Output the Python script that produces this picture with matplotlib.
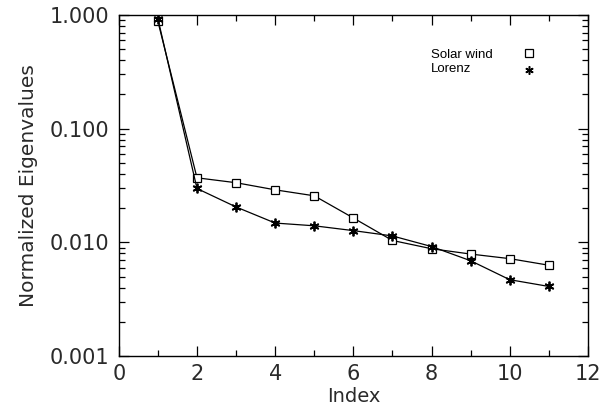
import matplotlib
matplotlib.use("Agg")
import matplotlib.pyplot as plt
from matplotlib.lines import Line2D
from matplotlib.ticker import FixedLocator, FormatStrFormatter, LogLocator, NullFormatter, MultipleLocator

index = [1, 2, 3, 4, 5, 6, 7, 8, 9, 10, 11]
solar_wind = [0.88, 0.037, 0.0335, 0.029, 0.0257, 0.0164, 0.0104, 0.0088, 0.0079, 0.0072, 0.0063]
lorenz = [0.93, 0.0298, 0.0205, 0.0148, 0.0140, 0.0127, 0.0114, 0.0092, 0.0069, 0.0047, 0.0041]
series_names = ["Solar wind", "Lorenz"]

y_ticks = [0.001, 0.01, 0.1, 1.0]
x_ticks = [0, 2, 4, 6, 8, 10, 12]

TXT = "#2a2a2a"
fig = plt.figure(figsize=(6.03, 4.17), dpi=100)
ax = fig.add_axes([0.197, 0.146, 0.778, 0.818])

sq = dict(marker="s", ms=6, mfc="white", mec="black", mew=0.9)
ast = dict(marker=(6, 2, 0), ms=7, mec="black", mew=1.3)
ax.plot(index, solar_wind, color="black", lw=0.9, zorder=3, **sq)
ax.plot(index, lorenz, color="black", lw=0.9, zorder=3, **ast)

ax.set_yscale("log")
ax.set_ylim(0.001, 1.0)
ax.set_xlim(0, 12)

ax.yaxis.set_major_locator(FixedLocator(y_ticks))
ax.yaxis.set_major_formatter(FormatStrFormatter("%.3f"))
ax.yaxis.set_minor_locator(LogLocator(base=10, subs=range(2, 10)))
ax.yaxis.set_minor_formatter(NullFormatter())
ax.xaxis.set_major_locator(FixedLocator(x_ticks))
ax.xaxis.set_minor_locator(MultipleLocator(1))

ax.tick_params(which="both", direction="in", top=True, right=True, labelsize=15,
               labelcolor=TXT, width=0.9)
ax.tick_params(which="major", length=7)
ax.tick_params(axis="x", which="major", pad=6)
ax.tick_params(axis="y", which="major", pad=7)
ax.tick_params(which="minor", length=4)
for s in ax.spines.values():
    s.set_linewidth(1.0)

ax.set_xlabel("Index", fontsize=14, color=TXT, labelpad=2)
ax.set_ylabel("Normalized Eigenvalues", fontsize=14.5, color=TXT, labelpad=8)

# legend: texts on the left, markers on the right (marker-only legend + texts)
handles = [Line2D([], [], linestyle="none", **sq), Line2D([], [], linestyle="none", **dict(ast, ms=6, mew=1.1))]
leg = ax.legend(handles, ["", ""], loc="center", bbox_to_anchor=(0.874, 0.861),
                frameon=False, handlelength=1.0, handletextpad=0.0,
                labelspacing=0.25, fontsize=9, borderpad=0, borderaxespad=0)
for name, yy in zip(series_names, [0.883, 0.842]):
    ax.text(0.666, yy, name, transform=ax.transAxes, fontsize=9.5,
            family="Liberation Sans", va="center", ha="left", color="black")

fig.savefig("out.png", dpi=100)
